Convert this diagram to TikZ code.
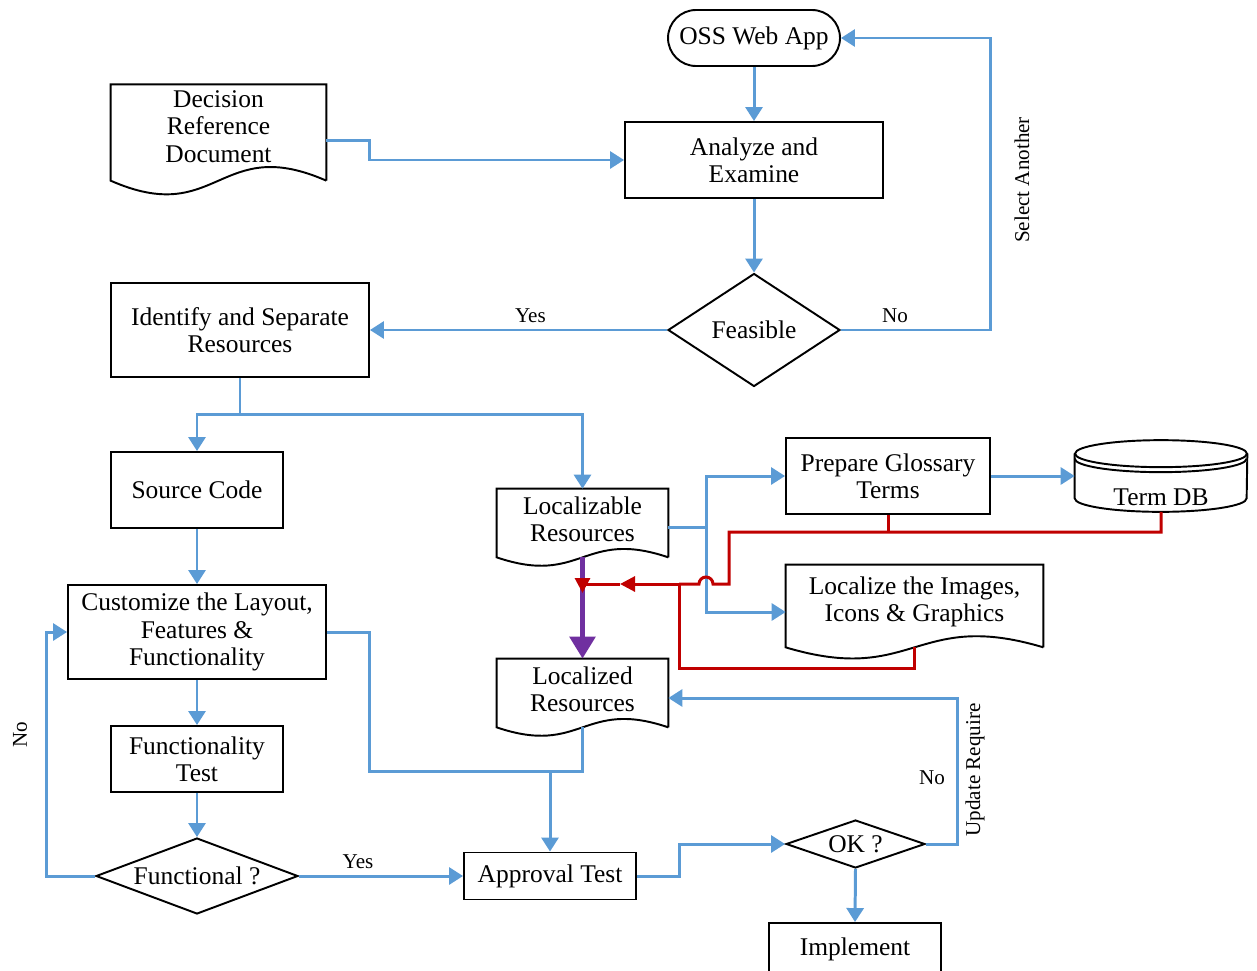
\documentclass[tikz,border=0pt]{standalone}
\usepackage{fontspec}
\setmainfont{Liberation Serif}
\usetikzlibrary{arrows.meta,positioning,shapes.geometric,calc}

\definecolor{flowblue}{RGB}{91,155,213}
\definecolor{flowred}{RGB}{192,0,0}
\definecolor{flowpurple}{RGB}{112,48,160}

\begin{document}
\begin{tikzpicture}[
        x=0.02cm, y=-0.02cm,
        font=\fontsize{14.5}{15.6}\selectfont,
        outline/.style={line width=1.1pt, line join=miter},
        terminal/.style={
            draw,
            outline,
            rounded corners=0.56cm,
            minimum width=3.44cm,
            minimum height=1.12cm
        },
        process/.style={
            draw,
            outline,
            align=center
        },
        document/.style={
            align=center
        },
        decision/.style={
            draw,
            outline,
            diamond,
            inner sep=1pt
        },
        database/.style={
            minimum width=3.44cm,
            minimum height=1.42cm
        },
        lbl/.style={font=\fontsize{12}{14}\selectfont},
        flowline/.style={draw=flowblue, line width=1.7pt},
        flow/.style={flowline, -{Triangle[length=0.28cm,width=0.34cm]}},
        redflow/.style={draw=flowred, line width=1.7pt},
        redtip/.style={-{Triangle[length=0.3cm,width=0.3cm]}},
        bigflow/.style={draw=flowpurple, line width=3.4pt, -{Triangle[length=0.44cm,width=0.5cm]}}
    ]
        \useasboundingbox (0,0) rectangle (1257,970);

        \node[terminal] (oss) at (754,38) {OSS Web App};
        \node[process, minimum width=5.16cm, minimum height=1.52cm] (analyze) at (754,160) {Analyze and\\Examine};
        \node[document, minimum width=4.3cm, minimum height=1.66cm] (decdoc) at (218.5,126.5) {Decision\\Reference\\Document};
        \node[decision, aspect=1.52, minimum width=3.44cm, minimum height=2.26cm] (feasible) at (754,330) {Feasible};
        \node[process, minimum width=5.16cm, minimum height=1.88cm] (identify) at (240,330) {Identify and Separate\\Resources};

        \node[process, minimum width=3.44cm, minimum height=1.52cm] (srccode) at (197,490) {Source Code};
        \node[process, minimum width=5.16cm, minimum height=1.88cm] (custom) at (197,632) {Customize the Layout,\\Features \&\\Functionality};
        \node[process, minimum width=3.44cm, minimum height=1.32cm] (functest) at (197,759) {Functionality\\Test};
        \node[decision, aspect=2.66, minimum width=4.04cm, minimum height=1.52cm] (functional) at (197,876) {Functional ?};
        \node[process, minimum width=3.44cm, minimum height=0.94cm] (approval) at (550,876) {Approval Test};

        \node[document, minimum width=3.42cm, minimum height=1.2cm] (locres) at (582.5,519) {Localizable\\Resources};
        \node[document, minimum width=3.42cm, minimum height=1.2cm] (locd) at (582.5,689) {Localized\\Resources};
        \node[process, minimum width=4.08cm, minimum height=1.52cm] (glossary) at (888,476) {Prepare Glossary\\Terms};
        \node[database] (termdb) at (1161,476) {};
        \node (dbname) at (1161,497) {Term DB};
        \node[document, minimum width=5.14cm, minimum height=1.48cm] (locimg) at (914.5,602) {Localize the Images,\\Icons \& Graphics};
        \node[decision, aspect=2.9, minimum width=2.78cm, minimum height=0.96cm] (ok) at (855.5,844) {OK ?};
        \node[process, minimum width=3.44cm, minimum height=1.04cm] (implement) at (855,949) {Implement};

        \foreach \n/\w/\e/\amp in {decdoc/215/12/0.22,locres/171/8/0.17,locd/171/8/0.17,locimg/257/8/0.15} {
            \coordinate (\n-wave) at ($(\n.south)+(0,\e)$);
            \draw[outline] ($(\n.south east)+(0,\e)$) -- (\n.north east) -- (\n.north west) -- ($(\n.south west)+(0,\e)$)
                .. controls +(0.5*\w,\amp*\w) and +(-0.5*\w,-\amp*\w) .. ($(\n.south east)+(0,\e)$);
        }

        \draw[outline] ($(termdb.north)+(0,13.5)$) ellipse[x radius=1.72cm, y radius=0.27cm];
        \draw[outline] ($(termdb.north west)+(0,18.5)$) arc[start angle=180, end angle=360, x radius=1.72cm, y radius=0.27cm];
        \draw[outline] ($(termdb.north west)+(0,13.5)$) -- ($(termdb.south west)+(0,-13.5)$)
            arc[start angle=180, end angle=360, x radius=1.72cm, y radius=0.27cm] -- ($(termdb.north east)+(0,13.5)$);

        \draw[flow] (oss.south) -- (analyze.north);
        \draw[flow] ($(decdoc.east)+(0,14)$) -- ++(43,0) |- (analyze.west);
        \draw[flow] (analyze.south) -- (feasible.north);
        \draw[flow] (feasible.east) -- node[lbl, above, pos=0.36] (nofeas) {No} ++(150,0) |- (oss.east);
        \node[lbl, rotate=90] (selanother) at (1022,180) {Select Another};
        \draw[flow] (feasible.west) -- node[lbl, above, pos=0.46] (yesfeas) {Yes} (identify.east);

        \coordinate (idsplit) at ($(identify.south)+(0,37)$);
        \draw[flowline] (identify.south) -- (idsplit);
        \foreach \target in {srccode,locres} {
            \draw[flow] (idsplit) -| (\target.north);
        }
        \foreach \source/\target in {srccode/custom,custom/functest,functest/functional,ok/implement} {
            \draw[flow] (\source.south) -- (\target.north);
        }
        \draw[flow] (functional.west) -- ++(-49,0) |- (custom.west);
        \node[lbl, rotate=90] (nofunc) at (20,735) {No};
        \draw[flow] (functional.east) -- node[lbl, above, pos=0.36] (yesfunc) {Yes} (approval.west);

        \coordinate (merge) at ($(approval.north)+(0,-80)$);
        \draw[flowline] (custom.east) -- ++(43,0) |- (locd-wave |- merge) -- (locd-wave);
        \draw[flow] (merge) -- (approval.north);

        \draw[flowline] ($(locres.east)+(0,8)$) -- ++(38,0) coordinate (lsplit);
        \draw[flow] (lsplit) |- (glossary.west);
        \draw[flow] (lsplit) |- ($(locimg.west)+(0,10)$);
        \draw[flow] (glossary.east) -- (termdb.west);

        \draw[bigflow] (locres-wave) -- (locd.north);

        \coordinate (rbus) at (729,532);
        \coordinate (rjoin) at (679,584);
        \draw[redflow] (glossary.south) -- (glossary.south |- rbus);
        \draw[redflow] (termdb.south) |- (rbus) -- (rbus |- rjoin) -- ++(-16,0)
            arc[start angle=0, end angle=180, radius=0.14cm] -- (rjoin);
        \draw[redflow] (locimg-wave) -- ++(0,21) -| (rjoin);
        \draw[redflow, redtip] (rjoin) -- ++(-59,0) coordinate (rmid);
        \draw[redflow, redtip] (rmid) -- (locres.south |- rjoin) -- ++(0,9);

        \draw[flow] (ok.east) -- ++(32,0) |- ($(locd.east)+(0,9)$);
        \node[lbl] (nook) at (932,778) {No};
        \node[lbl, rotate=90] (update) at (975,770) {Update Require};
        \draw[flow] (approval.east) -- ++(43,0) |- (ok.west);
    \end{tikzpicture}
\end{document}
